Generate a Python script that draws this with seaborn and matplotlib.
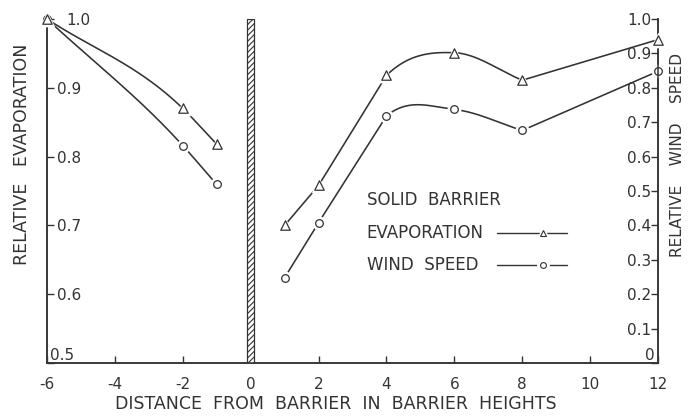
import numpy as np
import pandas as pd
import matplotlib
matplotlib.use("Agg")
import matplotlib.pyplot as plt
import seaborn as sns

# Distance from the barrier in barrier heights (negative = windward side)
x_windward = [-6, -2, -1]
x_leeward = [1, 2, 4, 6, 8, 12]

# Relative evaporation (left axis)
evap_windward = [1.00, 0.870, 0.818]
evap_leeward = [0.700, 0.758, 0.918, 0.951, 0.911, 0.970]

# Relative wind speed (right axis)
wind_windward = [1.00, 0.632, 0.519]
wind_leeward = [0.248, 0.408, 0.718, 0.737, 0.676, 0.848]

# Curve shaping: the leeward curves turn sharply at 8 and run straight
# over the segments that start at these distances
leeward_break = 8
leeward_straight = {1, 2}

x_ticks = [-6, -4, -2, 0, 2, 4, 6, 8, 10, 12]
x_tick_labels = ["-6", "-4", "-2", "0", "2", "4", "6", "8", "10", "12"]
evap_ticks = [0.5, 0.6, 0.7, 0.8, 0.9, 1.0]
evap_tick_labels = ["0.5", "0.6", "0.7", "0.8", "0.9", "1.0"]
wind_ticks = [0.0, 0.1, 0.2, 0.3, 0.4, 0.5, 0.6, 0.7, 0.8, 0.9, 1.0]
wind_tick_labels = ["0", "0.1", "0.2", "0.3", "0.4", "0.5", "0.6", "0.7", "0.8", "0.9", "1.0"]

INK = "#333333"

sns.set_style("ticks")
plt.rcParams["font.family"] = ["DejaVu Sans"]
plt.rcParams["hatch.linewidth"] = 0.8
plt.rcParams["hatch.color"] = INK


def hermite_curve(xs, ys, straight=(), n=80):
    """Smooth curve through the points (cubic Hermite, averaged-secant tangents)."""
    xs = np.asarray(xs, float)
    ys = np.asarray(ys, float)
    h = np.diff(xs)
    d = np.diff(ys) / h
    m = np.empty_like(ys)
    m[0], m[-1] = d[0], d[-1]
    for i in range(1, len(xs) - 1):
        m[i] = (h[i] * d[i - 1] + h[i - 1] * d[i]) / (h[i - 1] + h[i])
    out_x, out_y = [], []
    for i in range(len(xs) - 1):
        t = np.linspace(0, 1, n)
        if xs[i] in straight:
            seg = ys[i] + t * (ys[i + 1] - ys[i])
        else:
            h00 = 2 * t**3 - 3 * t**2 + 1
            h10 = t**3 - 2 * t**2 + t
            h01 = -2 * t**3 + 3 * t**2
            h11 = t**3 - t**2
            seg = h00 * ys[i] + h10 * h[i] * m[i] + h01 * ys[i + 1] + h11 * h[i] * m[i + 1]
        out_x.append(xs[i] + t * h[i])
        out_y.append(seg)
    return np.concatenate(out_x), np.concatenate(out_y)


def runs(xs, ys, breaks):
    """Split a series into separately smoothed runs at the given x positions."""
    result, start = [], 0
    for i, x in enumerate(xs):
        if x in breaks and 0 < i < len(xs) - 1:
            result.append((xs[start:i + 1], ys[start:i + 1]))
            start = i
    result.append((xs[start:], ys[start:]))
    return result


fig = plt.figure(figsize=(6.89, 4.19), dpi=100)
ax = fig.add_axes([47 / 689, 1 - 363 / 419, 611 / 689, 344 / 419])
ax2 = ax.twinx()
ax.set_zorder(ax2.get_zorder() + 1)
ax.patch.set_visible(False)


def draw_series(target, xs, ys, marker, size, breaks, straight=()):
    for rx, ry in runs(xs, ys, breaks):
        cx, cy = hermite_curve(rx, ry, straight)
        sns.lineplot(x=cx, y=cy, ax=target, color=INK, linewidth=1.15,
                     sort=False, estimator=None, zorder=2)
    pts = pd.DataFrame({"x": xs, "y": ys})
    sns.scatterplot(data=pts, x="x", y="y", ax=target, marker=marker,
                    s=(size + 4.5) ** 2, color="white", linewidth=0, zorder=3,
                    clip_on=False)
    sns.scatterplot(data=pts, x="x", y="y", ax=target, marker=marker,
                    s=size ** 2, facecolor="white", edgecolor=INK,
                    linewidth=0.9, zorder=4, clip_on=False)


# Wind speed on the right-hand scale
draw_series(ax2, x_windward, wind_windward, "o", 5.5, [])
draw_series(ax2, x_leeward, wind_leeward, "o", 5.5, [leeward_break], leeward_straight)
# Evaporation on the left-hand scale
draw_series(ax, x_windward, evap_windward, "^", 6.8, [])
draw_series(ax, x_leeward, evap_leeward, "^", 6.8, [leeward_break], leeward_straight)

# The solid barrier at distance zero
ax.bar([0], [0.5], bottom=0.5, width=0.2, facecolor="white", edgecolor=INK,
       linewidth=0.9, hatch="//////", zorder=2)

# Axes limits and ticks
ax.set_xlim(-6, 12)
ax.set_ylim(0.5, 1.0)
ax2.set_ylim(0.0, 1.0)

ax.set_xticks(x_ticks)
ax.set_xticklabels(x_tick_labels)
ax.set_yticks(evap_ticks)
ax.set_yticklabels(evap_tick_labels)
ax2.set_yticks(wind_ticks)
ax2.set_yticklabels(wind_tick_labels)

ax.tick_params(axis="x", direction="in", length=5, width=1, color=INK,
               labelsize=11, labelcolor=INK, pad=10)
ax.tick_params(axis="y", direction="in", length=5, width=1, color=INK,
               labelsize=11, labelcolor=INK, pad=-7)
ax2.tick_params(axis="y", direction="in", length=5, width=1, color=INK,
                labelsize=11, labelcolor=INK, pad=-5)

for lab in ax.get_yticklabels():
    lab.set_horizontalalignment("left")
for lab in ax2.get_yticklabels():
    lab.set_horizontalalignment("right")
# bottom labels sit just above the base line, in the corners
ax.get_yticklabels()[0].set_verticalalignment("bottom")
ax.get_yticklabels()[0].set_x(-0.011)
ax2.get_yticklabels()[0].set_verticalalignment("bottom")
ax2.get_yticklabels()[0].set_x(1.006)
# keep the top label clear of the marker sitting on the axis
ax.get_yticklabels()[-1].set_x(0.016)

for a in (ax, ax2):
    a.spines["top"].set_visible(False)
    for side in ("left", "right", "bottom"):
        a.spines[side].set_color(INK)
        a.spines[side].set_linewidth(1.1)

# Axis titles
ax.set_xlabel("DISTANCE  FROM  BARRIER  IN  BARRIER  HEIGHTS", fontsize=12.5,
              color=INK)
ax.xaxis.set_label_coords(0.473, -0.093)
ax.set_ylabel("RELATIVE   EVAPORATION", fontsize=12.5, color=INK)
ax.yaxis.set_label_coords(-0.027, 0.607)
ax2.set_ylabel("RELATIVE    WIND    SPEED", fontsize=11, color=INK, rotation=90)
ax2.yaxis.set_label_coords(1.019, 0.605)

# Key
key_x = 0.523
ax.text(key_x, 0.474, "SOLID  BARRIER", transform=ax.transAxes, fontsize=12,
        color=INK, va="center", ha="left")
for y, label, marker, ms in [(0.377, "EVAPORATION", "^", 5.0),
                             (0.285, "WIND  SPEED", "o", 4.2)]:
    ax.text(key_x, y, label, transform=ax.transAxes, fontsize=12, color=INK,
            va="center", ha="left")
    ax.plot([0.7365, 0.851], [y, y], transform=ax.transAxes, color=INK,
            linewidth=1.0, zorder=5)
    ax.plot([0.811], [y], marker=marker, markersize=ms + 4, markerfacecolor="white",
            markeredgecolor="white", linestyle="none", transform=ax.transAxes, zorder=6)
    ax.plot([0.811], [y], marker=marker, markersize=ms, markerfacecolor="white",
            markeredgecolor=INK, markeredgewidth=0.8, linestyle="none",
            transform=ax.transAxes, zorder=7)

fig.savefig("out.png", dpi=100, facecolor="white")
